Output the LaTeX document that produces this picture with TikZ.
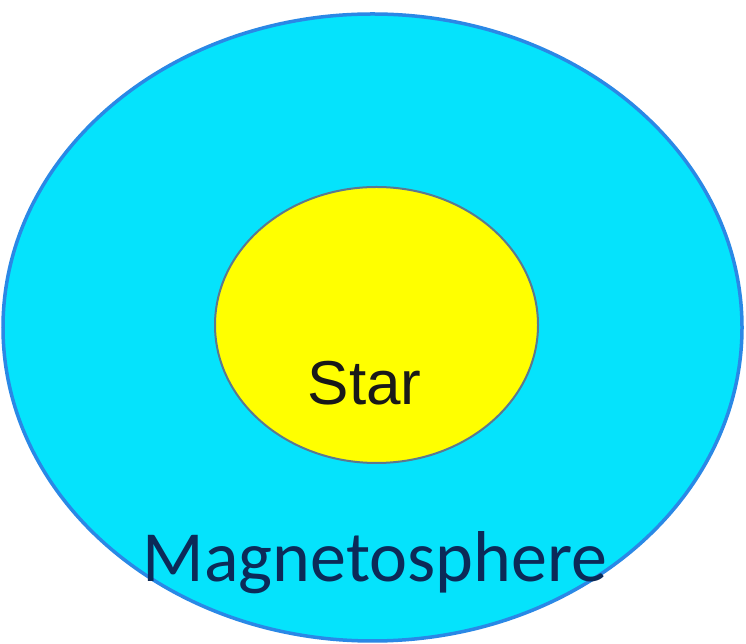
\documentclass[tikz,border=0pt]{standalone}
\usepackage{fontspec}
\newfontfamily\carlito{Carlito}
\newfontfamily\arialish{Liberation Sans}
\definecolor{magfill}{HTML}{05E3FC}
\definecolor{magedge}{HTML}{2A88E6}
\definecolor{starfill}{HTML}{FFFF00}
\definecolor{staredge}{HTML}{5C7890}
\definecolor{magtext}{HTML}{0C2A58}
\tikzset{
  outerball/.style={fill=magfill, draw=magedge, line width=3.5pt},
  innerball/.style={fill=starfill, draw=staredge, line width=2pt},
  startext/.style={font=\arialish\fontsize{62}{62}\selectfont, text=black!90, anchor=base, inner sep=0pt},
  magtextstyle/.style={font=\carlito\fontsize{72}{72}\selectfont, text=magtext, anchor=base, inner sep=0pt}
}
\begin{document}
\begin{tikzpicture}[x=1pt,y=1pt]
\useasboundingbox (0,0) rectangle (746,644);
\fill[white] (0,0) rectangle (746,644);
\draw[outerball] (372.5,316.5) ellipse [x radius=369.5, y radius=313.5];
\draw[innerball] (376.5,319) ellipse [x radius=161.5, y radius=138];
\node[startext] (star) at (364.5,239) {Star};
\node[magtextstyle] (mag) at (375,62) {Magnetosphere};
\end{tikzpicture}
\end{document}
